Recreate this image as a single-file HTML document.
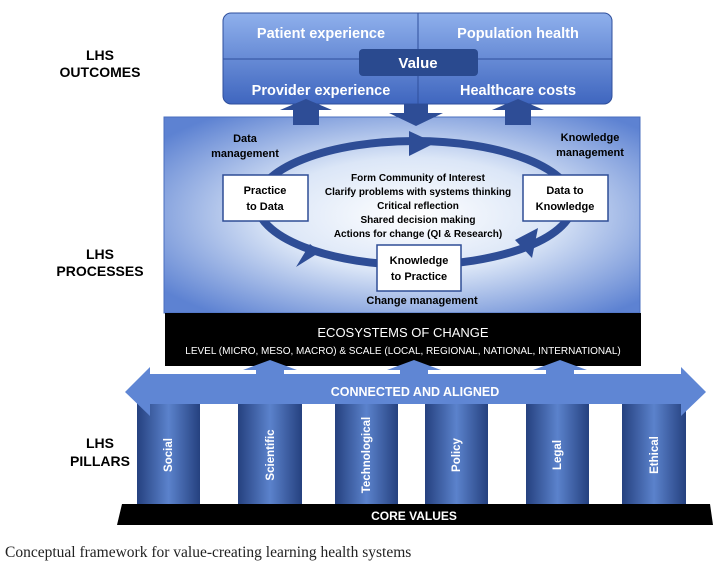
<!DOCTYPE html>
<html><head><meta charset="utf-8"><style>
body{margin:0;background:#fff;width:723px;height:569px;overflow:hidden}
svg text{font-family:"Liberation Sans",sans-serif;font-weight:bold}
</style></head><body>
<svg width="723" height="569" viewBox="0 0 723 569" xmlns="http://www.w3.org/2000/svg">
<defs>
<linearGradient id="ob" x1="0" y1="0" x2="0" y2="1">
<stop offset="0" stop-color="#8fb0ec"/><stop offset="1" stop-color="#3f66bf"/></linearGradient>
<radialGradient id="pb" cx="0.52" cy="0.5" r="0.65">
<stop offset="0" stop-color="#ffffff"/><stop offset="0.45" stop-color="#dbe6f7"/><stop offset="1" stop-color="#5d82d2"/></radialGradient>
<linearGradient id="pil" x1="0" y1="0" x2="1" y2="0">
<stop offset="0" stop-color="#25417f"/><stop offset="0.5" stop-color="#5b82cc"/><stop offset="1" stop-color="#25417f"/></linearGradient>
</defs>
<g font-size="14" fill="#000" text-anchor="middle">
<text x="100" y="60">LHS</text><text x="100" y="77">OUTCOMES</text>
<text x="100" y="259">LHS</text><text x="100" y="276">PROCESSES</text>
<text x="100" y="448">LHS</text><text x="100" y="466">PILLARS</text>
</g>
<rect x="223" y="13" width="389" height="91" rx="8" fill="url(#ob)" stroke="#2f4f9c"/>
<line x1="223" y1="59" x2="612" y2="59" stroke="#2f4f9c"/>
<line x1="418" y1="13" x2="418" y2="104" stroke="#2f4f9c"/>
<rect x="359" y="49" width="119" height="27" rx="4" fill="#2a4a8f"/>
<g fill="#fff" font-size="14.5" text-anchor="middle">
<text x="321" y="38">Patient experience</text>
<text x="518" y="38">Population health</text>
<text x="418" y="68" font-size="15">Value</text>
<text x="321" y="95">Provider experience</text>
<text x="518" y="95">Healthcare costs</text>
</g>
<rect x="164" y="117" width="476" height="196" fill="url(#pb)" stroke="#4a6fbf"/>
<g fill="#2e4d96">
<polygon points="293,125 293,110 280,110 306,99 332,110 319,110 319,125"/>
<polygon points="505,125 505,110 492,110 518,99 544,110 531,110 531,125"/>
<polygon points="404,104 428,104 428,113 443,113 416,126 389,113 404,113"/>
</g>
<ellipse cx="415" cy="203" rx="158" ry="62" fill="none" stroke="#2e4d96" stroke-width="8"/>
<g fill="#2e4d96">
<polygon points="409,131 435,143 409,156"/>
<polygon points="515,240 538,228 532,258"/>
<polygon points="310,244 296,267 320,252"/>
</g>
<g font-size="11" fill="#000" text-anchor="middle">
<text x="245" y="142">Data</text><text x="245" y="157">management</text>
<text x="590" y="141">Knowledge</text><text x="590" y="156">management</text>
<text x="422" y="304">Change management</text>
<text x="418" y="181" font-size="10">Form Community of Interest</text>
<text x="418" y="195" font-size="10">Clarify problems with systems thinking</text>
<text x="418" y="209" font-size="10">Critical reflection</text>
<text x="418" y="223" font-size="10">Shared decision making</text>
<text x="418" y="237" font-size="10">Actions for change (QI &amp; Research)</text>
</g>
<g stroke="#2e4d96" stroke-width="1.5" fill="#fff">
<rect x="223" y="175" width="85" height="46"/>
<rect x="523" y="175" width="85" height="46"/>
<rect x="377" y="245" width="84" height="46"/>
</g>
<g font-size="11" fill="#000" text-anchor="middle">
<text x="265" y="194">Practice</text><text x="265" y="210">to Data</text>
<text x="565" y="194">Data to</text><text x="565" y="210">Knowledge</text>
<text x="419" y="264">Knowledge</text><text x="419" y="280">to Practice</text>
</g>
<rect x="165" y="313" width="476" height="53" fill="#000"/>
<text x="403" y="337" fill="#fff" font-size="13" text-anchor="middle" style="font-weight:normal">ECOSYSTEMS OF CHANGE</text>
<text x="403" y="354" fill="#fff" font-size="10" text-anchor="middle" style="font-weight:normal">LEVEL (MICRO, MESO, MACRO) &amp; SCALE (LOCAL, REGIONAL, NATIONAL, INTERNATIONAL)</text>
<g fill="url(#pil)">
<rect x="137" y="400" width="63" height="105"/>
<rect x="238" y="400" width="64" height="105"/>
<rect x="335" y="400" width="63" height="105"/>
<rect x="425" y="400" width="63" height="105"/>
<rect x="526" y="400" width="63" height="105"/>
<rect x="622" y="400" width="64" height="105"/>
</g>
<g fill="#5f86d4">
<polygon points="125,392 150,367 150,374 256,374 256,370 243,370 270,360 297,370 284,370 284,374 400,374 400,370 387,370 414,360 441,370 428,370 428,374 546,374 546,370 533,370 560,360 587,370 574,370 574,374 681,374 681,367 706,392 681,416 681,404 150,404 150,416"/>
</g>
<text x="415" y="396" fill="#fff" font-size="12.5" text-anchor="middle">CONNECTED AND ALIGNED</text>
<g fill="#fff" font-size="11.5" text-anchor="middle">
<text transform="translate(172,455) rotate(-90)">Social</text>
<text transform="translate(274,455) rotate(-90)">Scientific</text>
<text transform="translate(370,455) rotate(-90)">Technological</text>
<text transform="translate(460,455) rotate(-90)">Policy</text>
<text transform="translate(561,455) rotate(-90)">Legal</text>
<text transform="translate(658,455) rotate(-90)">Ethical</text>
</g>
<polygon points="122,504 710,504 713,525 117,525" fill="#000"/>
<text x="414" y="520" fill="#fff" font-size="12" text-anchor="middle">CORE VALUES</text>
<text x="5" y="557" font-size="15.5" style="font-family:'Liberation Serif',serif;font-weight:normal" fill="#222">Conceptual framework for value-creating learning health systems</text>
</svg>
</body></html>
